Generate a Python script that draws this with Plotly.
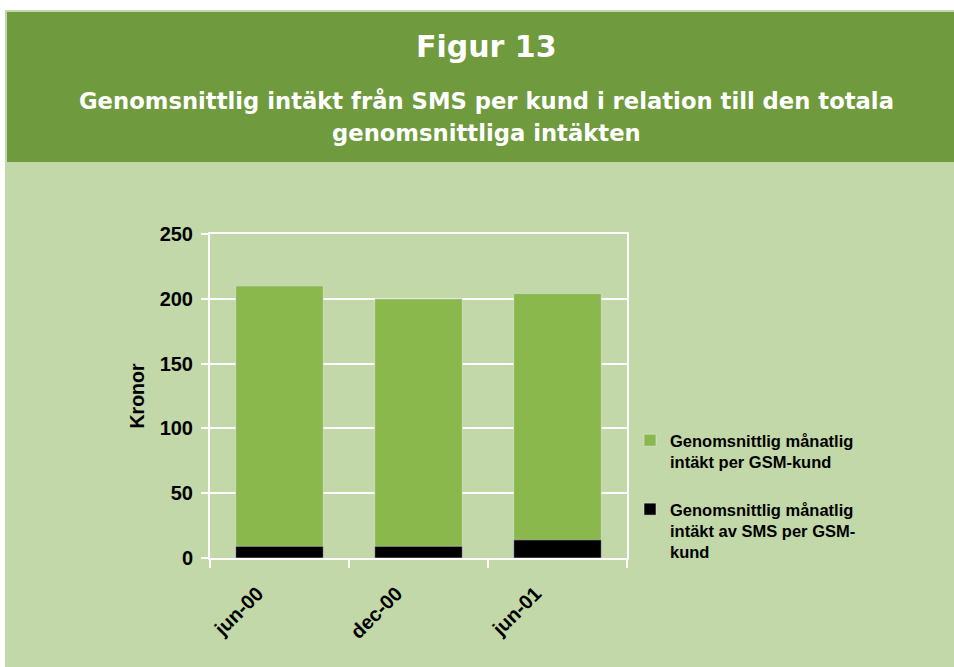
import plotly.graph_objects as go

# data
periods = ["jun-00", "dec-00", "jun-01"]
total_revenue = [210, 200, 204]
sms_revenue = [9, 9, 14]
y_ticks = [0, 50, 100, 150, 200, 250]

series_names = [
    "Genomsnittlig månatlig<br>intäkt per GSM-kund",
    "Genomsnittlig månatlig<br>intäkt av SMS per GSM-<br>kund",
]

HEADER_GREEN = "#6f9a3d"
BACK_GREEN = "#c2d8a9"
BAR_GREEN = "#8ab84d"
FONT = "Liberation Sans, Arial, sans-serif"
HEAD_FONT = "DejaVu Sans, Liberation Sans, sans-serif"

W, H = 954, 667
# plot area in pixels
L, R, T, B = 210, 627, 234, 558


def px_x(px):
    return (px - L) / (R - L)


def px_y(py):
    return (B - py) / (B - T)


fig = go.Figure()
fig.add_trace(go.Bar(
    x=periods, y=total_revenue, name=series_names[0],
    marker=dict(color=BAR_GREEN), legendgroup="a",
))
fig.add_trace(go.Bar(
    x=periods, y=sms_revenue, name=series_names[1],
    marker=dict(color="black"), legendgroup="b",
))

# background panels
fig.add_shape(type="rect", xref="paper", yref="paper",
              x0=px_x(5), x1=px_x(W + 5), y0=px_y(10), y1=px_y(H + 5),
              fillcolor=BACK_GREEN, line=dict(width=0), layer="below")
fig.add_shape(type="rect", xref="paper", yref="paper",
              x0=px_x(7), x1=px_x(W + 5), y0=px_y(12), y1=px_y(162),
              fillcolor=HEADER_GREEN, line=dict(width=0), layer="below")

head_lines = [
    ("Figur 13", 46, 30),
    ("Genomsnittlig intäkt från SMS per kund i relation till den totala", 101, 22.7),
    ("genomsnittliga intäkten", 133, 22.7),
]
for text, ypx, size in head_lines:
    fig.add_annotation(text=text, xref="paper", yref="paper",
                       x=px_x(486), y=px_y(ypx), xanchor="center",
                       yanchor="middle", showarrow=False,
                       font=dict(family=HEAD_FONT, size=size, color="white",
                                 weight="bold"))

fig.update_layout(
    width=W, height=H,
    margin=dict(l=L, r=W - R, t=T, b=H - B),
    paper_bgcolor="white",
    plot_bgcolor="rgba(0,0,0,0)",
    barmode="overlay",
    bargap=0.37,
    font=dict(family=FONT, color="black"),
    showlegend=True,
    legend=dict(
        x=px_x(630), y=px_y(423), xanchor="left", yanchor="top",
        bgcolor="rgba(0,0,0,0)",
        traceorder="grouped", tracegroupgap=23, valign="top",
        font=dict(family=FONT, size=16.5, color="black", weight="bold"),
    ),
    xaxis=dict(
        showgrid=False, showline=True, linecolor="white", linewidth=2,
        mirror=True, ticks="outside", tickson="boundaries", ticklen=8,
        tickcolor="white", tickwidth=2, tickangle=-45,
        ticklabelstandoff=14, ticklabelshift=-22,
        tickfont=dict(family=FONT, size=20, color="black", weight="bold"),
    ),
    yaxis=dict(
        range=[0, 250], tickvals=y_ticks, showgrid=True, gridcolor="white",
        gridwidth=2, showline=True, linecolor="white", linewidth=2,
        mirror=True, ticks="outside", ticklen=7, tickcolor="white",
        tickwidth=2, zeroline=False, ticklabelstandoff=4,
        tickfont=dict(family=FONT, size=20, color="black", weight="bold"),
        title=dict(text="Kronor", standoff=10,
                   font=dict(family=FONT, size=19.5, color="black", weight="bold")),
    ),
)

fig.write_html("out.html", config={"displayModeBar": False},
               post_script="document.body.style.margin='0';")
